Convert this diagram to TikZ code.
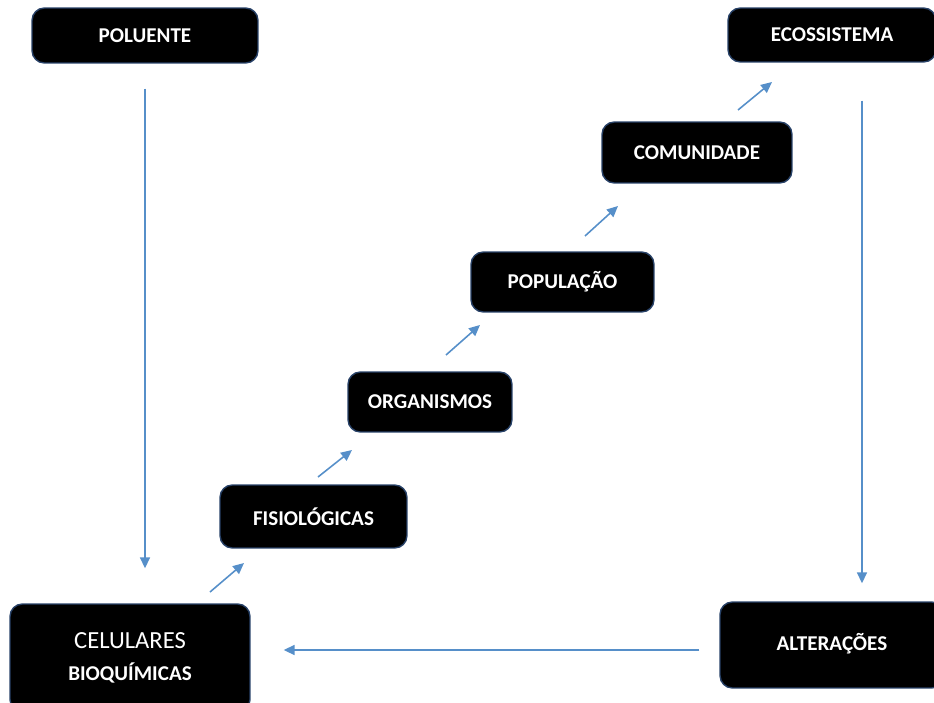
\documentclass[tikz,border=0pt]{standalone}
\usepackage{fontspec}
\setmainfont{Carlito}
\usetikzlibrary{arrows.meta}
\definecolor{seta}{RGB}{86,143,201}
\definecolor{borda}{RGB}{40,66,104}

\tikzset{
  nivel/.style={draw=borda, line width=0.8pt, fill=black, rounded corners=7pt,
    text=white, font=\fontsize{12}{14}\selectfont\bfseries, inner sep=0pt},
  fluxo/.style={draw=seta, line width=0.9pt,
    -{Triangle[length=0.22cm,width=0.2cm]}}
}

\begin{document}
\begin{tikzpicture}[x=0.02cm,y=-0.02cm]
\useasboundingbox (0,0) rectangle (934,703);

% caixas
\node[nivel, minimum width=4.52cm, minimum height=1.1cm] (pol) at (145,35.5) {POLUENTE};
\node[nivel, minimum width=4.16cm, minimum height=1.08cm] (eco) at (832,35) {ECOSSISTEMA};
\node[nivel, minimum width=3.8cm, minimum height=1.22cm] (com) at (697,152.5) {COMUNIDADE};
\node[nivel, minimum width=3.66cm, minimum height=1.2cm] (pop) at (562.5,282) {POPULAÇÃO};
\node[nivel, minimum width=3.28cm, minimum height=1.2cm] (org) at (430,402) {ORGANISMOS};
\node[nivel, minimum width=3.74cm, minimum height=1.26cm] (fis) at (313.5,516.5) {FISIOLÓGICAS};
\node[nivel, minimum width=4.8cm, minimum height=2.16cm, align=center] (cel) at (130,658)
  {{\fontsize{14}{16}\selectfont\mdseries CELULARES}\\[4pt]BIOQUÍMICAS};
\node[nivel, minimum width=4.48cm, minimum height=1.72cm] (alt) at (832,645) {\raisebox{3pt}{ALTERAÇÕES}};

% setas entre os niveis
\coordinate (s1) at (210,592); \coordinate (e1) at (244,563);
\coordinate (s2) at (318,477); \coordinate (e2) at (352,450);
\coordinate (s3) at (446,355); \coordinate (e3) at (480,325);
\coordinate (s4) at (585,236); \coordinate (e4) at (618,206);
\coordinate (s5) at (738,110); \coordinate (e5) at (772,82);
\draw[fluxo] (s1) -- (e1);
\draw[fluxo] (s2) -- (e2);
\draw[fluxo] (s3) -- (e3);
\draw[fluxo] (s4) -- (e4);
\draw[fluxo] (s5) -- (e5);

% ciclo
\draw[fluxo, shorten <=0.5cm, shorten >=0.7cm] (pol.south) -- (pol.south |- cel.north);
\draw[fluxo, shorten <=0.76cm, shorten >=0.36cm]
  ([xshift=0.6cm]eco.south) -- ([xshift=0.6cm]alt.north);
\draw[fluxo, shorten <=0.4cm, shorten >=0.66cm]
  ([yshift=-0.1cm]alt.west) -- ([yshift=-0.1cm]alt.west -| cel.east);
\end{tikzpicture}
\end{document}
